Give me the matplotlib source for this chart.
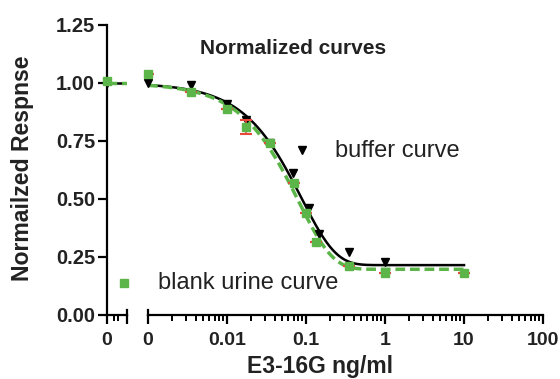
import numpy as np
import matplotlib
matplotlib.use('Agg')
import matplotlib.pyplot as plt
from matplotlib.lines import Line2D
from matplotlib.ticker import LogLocator, NullFormatter, FixedLocator

plt.rcParams['font.family'] = ['Liberation Sans', 'DejaVu Sans']

# ---------------- data ----------------
zero_buffer = 1.00
zero_urine = 1.01

buffer_conc = [0.001, 0.0035, 0.01, 0.0175, 0.035, 0.069, 0.11, 0.147, 0.35, 1.0]
buffer_resp = [1.00, 0.99, 0.91, 0.84, 0.74, 0.61, 0.46, 0.35, 0.27, 0.23]

urine_conc = [0.001, 0.0035, 0.01, 0.0175, 0.035, 0.07, 0.10, 0.134, 0.35, 1.0, 10.0]
urine_resp = [1.04, 0.96, 0.89, 0.81, 0.74, 0.57, 0.44, 0.315, 0.21, 0.18, 0.18]
urine_err = [0, 0, 0, 0.03, 0, 0, 0, 0, 0, 0, 0]

# one-phase decay fits: Y = (Y0 - plateau) * exp(-K x) + plateau
buffer_fit = {"y0": 1.0, "plateau": 0.215, "k": 11.4}
urine_fit = {"y0": 1.0, "plateau": 0.197, "k": 12.5}

y_ticks = [0.0, 0.25, 0.50, 0.75, 1.00, 1.25]
y_ticklabels = ["0.00", "0.25", "0.50", "0.75", "1.00", "1.25"]
x_ticks = [0.001, 0.01, 0.1, 1, 10, 100]
x_ticklabels = ["0", "0.01", "0.1", "1", "10", "100"]

GREEN = "#5cb548"
RED = "#e8473b"
TXT = "#222222"


def decay(x, p):
    return (p["y0"] - p["plateau"]) * np.exp(-p["k"] * np.asarray(x)) + p["plateau"]


W, H = 560, 379
fig = plt.figure(figsize=(W / 100, H / 100), dpi=100)

y_bot, y_top = 315, 25
ax1 = fig.add_axes([107 / W, (H - y_bot) / H, 20 / W, (y_bot - y_top) / H])
ax2 = fig.add_axes([148 / W, (H - y_bot) / H, 395 / W, (y_bot - y_top) / H])

for ax in (ax1, ax2):
    ax.set_ylim(0, 1.25)
    ax.patch.set_alpha(0)
    for s in ("top", "right"):
        ax.spines[s].set_visible(False)
    ax.spines["bottom"].set_linewidth(1.6)
    ax.spines["left"].set_linewidth(1.6)

# ---------------- left segment (zero) ----------------
ax1.set_xlim(0, 1)
ax1.plot([0, 1], [buffer_fit["y0"]] * 2, color="black", lw=1.8, solid_capstyle="butt")
ax1.plot([0, 1], [urine_fit["y0"]] * 2, color=GREEN, lw=2.5, dashes=(2.8, 1.4))
ax1.plot([0], [zero_buffer], "v", color="black", ms=6, clip_on=False, zorder=4)
ax1.plot([0], [zero_urine], "s", color=GREEN, ms=6, clip_on=False, zorder=5)

ax1.set_yticks(y_ticks)
ax1.set_yticklabels(y_ticklabels, fontsize=14.5, fontweight="bold", color=TXT)
ax1.set_xticks([0, 1])
ax1.set_xticklabels(["0", ""], fontsize=14, fontweight="bold", color=TXT)
ax1.xaxis.set_minor_locator(FixedLocator([0.35, 0.55]))
ax1.tick_params(axis="y", length=6.5, width=1.6, pad=2)
ax1.tick_params(axis="x", which="major", length=6.5, width=1.6, pad=6)
ax1.tick_params(axis="x", which="minor", length=4.5, width=1.4)
ax1.plot([1, 1], [0, 0.017], color="black", lw=1.6,
         transform=ax1.get_xaxis_transform(), clip_on=False)

# ---------------- right segment (log) ----------------
ax2.set_xscale("log")
ax2.set_xlim(0.001, 100)
ax2.spines["left"].set_visible(False)
ax2.set_yticks([])

xc = np.logspace(-3, 1, 400)
ax2.plot(xc, decay(xc, buffer_fit), color="black", lw=1.8, zorder=2)
ax2.plot(xc, decay(xc, urine_fit), color=GREEN, lw=2.5, dashes=(2.8, 1.4), zorder=3)

ax2.plot(buffer_conc, buffer_resp, "v", color="black", ms=6, ls="none",
         clip_on=False, zorder=4)
ax2.errorbar(urine_conc, urine_resp, yerr=urine_err, fmt="none", ecolor=RED,
             elinewidth=1.2, capsize=4, capthick=1.5, zorder=4)
ax2.plot(urine_conc, urine_resp, "s", color=GREEN, ms=6, ls="none",
         clip_on=False, zorder=5)

ax2.set_xticks(x_ticks)
ax2.set_xticklabels(x_ticklabels, fontsize=14, fontweight="bold", color=TXT)
ax2.xaxis.set_minor_locator(LogLocator(base=10, subs=np.arange(2, 10), numticks=20))
ax2.xaxis.set_minor_formatter(NullFormatter())
ax2.tick_params(axis="x", which="major", length=6.5, width=1.6, pad=6)
ax2.tick_params(axis="x", which="minor", length=4, width=1.4)
ax2.plot([0.001, 0.001], [0, 0.017], color="black", lw=1.6,
         transform=ax2.get_xaxis_transform(), clip_on=False)

# ---------------- texts ----------------
fig.text(293 / W, 1 - 48 / H, "Normalized curves", ha="center", va="center",
         fontsize=15, fontweight="bold", color=TXT)
fig.text(23 / W, 1 - 168 / H, "Normailzed Respnse", ha="center", va="center",
         rotation=90, fontsize=16.6, fontweight="bold", color=TXT)
fig.text(320 / W, 1 - 367 / H, "E3-16G ng/ml", ha="center", va="center",
         fontsize=16.5, fontweight="bold", color=TXT)

# legend entries
fig.add_artist(Line2D([302 / W], [1 - 150 / H], marker="v", color="black", ms=6,
                      transform=fig.transFigure))
fig.text(335 / W, 1 - 151 / H, "buffer curve", ha="left", va="center",
         fontsize=17, color=TXT)
fig.add_artist(Line2D([124 / W], [1 - 283 / H], marker="s", color=GREEN, ms=6,
                      transform=fig.transFigure))
fig.text(158 / W, 1 - 283 / H, "blank urine curve", ha="left", va="center",
         fontsize=17, color=TXT)

fig.savefig("out.png", dpi=100)
